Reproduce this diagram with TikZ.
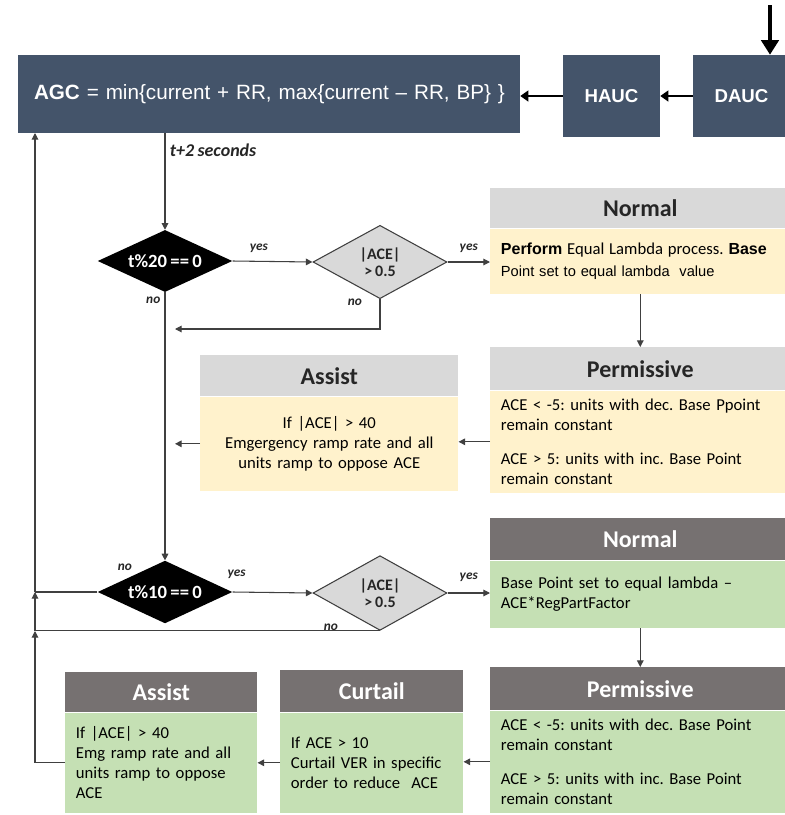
\documentclass[tikz,border=0pt]{standalone}
\usepackage{fontspec}
\usepackage{graphicx}
\setmainfont{Carlito}[WordSpace=0.8]
\newfontfamily\arialfont{Liberation Sans}[WordSpace=0.7]
\frenchspacing
\usetikzlibrary{positioning,shapes.geometric,arrows.meta}
\definecolor{slate}{HTML}{44546A}
\definecolor{hdrgray}{HTML}{D9D9D9}
\definecolor{hdrdark}{HTML}{767171}
\definecolor{paleyellow}{HTML}{FFF2CC}
\definecolor{palegreen}{HTML}{C5E0B4}
\definecolor{decgray}{HTML}{D9D9D9}

\begin{document}
\begin{tikzpicture}[x=0.75pt, y=-0.75pt,
        ucbox/.style={rectangle, fill=slate, text=white, inner ysep=0pt},
        hdr/.style={rectangle, inner xsep=8pt, inner ysep=0pt, align=center, font=\fontsize{18}{20}\selectfont\bfseries},
        hdrlight/.style={hdr, fill=hdrgray, text=black!85},
        hdrdark/.style={hdr, fill=hdrdark, text=white},
        body/.style={rectangle, inner xsep=8pt, inner ysep=2pt, font=\fontsize{12.5}{15}\selectfont, text=black},
        dec/.style={diamond, aspect=2.2, inner sep=0pt},
        decblack/.style={dec, fill=black, text=white, font=\fontsize{14}{16}\selectfont\bfseries},
        decgray/.style={dec, fill=decgray, draw=black!75, line width=0.8pt, align=center, font=\fontsize{12}{13}\selectfont\bfseries, text=black!85},
        lbl/.style={font=\fontsize{10}{12}\selectfont\bfseries\itshape, text=black!85},
        conn/.style={draw=black!75, line width=0.8pt},
        ->/.style={-{Triangle[length=5pt,width=5pt]}},
        bigarrow/.style={draw=black, line width=2.2pt, -{Triangle[length=6pt,width=8pt]}}]
        \begin{scope}

            \useasboundingbox (0,0) rectangle (785,815);

            \node[ucbox, text width=352.5pt, inner xsep=12pt, minimum height=58.5pt, align=left, font=\arialfont\fontsize{15.5}{17}\selectfont] (agc) at (269,94) {\makebox[352.5pt][l]{\textbf{AGC} = min\{current + RR, max\{current – RR, BP\} \}}};
            \node[ucbox, minimum width=72.75pt, minimum height=61.5pt, font=\arialfont\fontsize{14}{16}\selectfont\bfseries] (hauc) at (611.5,96) {HAUC};
            \node[ucbox, minimum width=72.75pt, minimum height=61.5pt, font=\arialfont\fontsize{14}{16}\selectfont\bfseries] (dauc) at (741.5,96) {DAUC};
            \coordinate (topin) at (770,5);

            \draw[bigarrow, line width=3.5pt, -{Triangle[length=11pt,width=13pt]}] (topin) -- (topin |- dauc.north);
            \draw[bigarrow] (dauc.west) -- (hauc.east);
            \draw[bigarrow] (hauc.west) -- (hauc.west -| agc.east);


            \node[decblack, minimum width=101pt, minimum height=46.5pt] (dec1) at (165,261) {t\%20 == 0};
            \node[decgray, minimum width=100.5pt, minimum height=55pt] (dec2) at (380,262) {|ACE|\\> 0.5};

            \node[hdrlight, anchor=north west, text width=209pt, minimum height=30pt] (norm1h) at (490,188) {Normal};
            \node[body, below=0pt of norm1h, fill=paleyellow, text width=209pt, minimum height=48.75pt, align=left, font=\arialfont\fontsize{11}{16.5}\selectfont] (norm1b) {{\fontsize{12}{14}\selectfont\bfseries Perform} {\rmfamily\fontsize{12.5}{14}\selectfont Equal Lambda process.} {\fontsize{12}{14}\selectfont\bfseries Base}\\Point set to equal lambda\ \ value};

            \node[hdrlight, anchor=north west, text width=209pt, minimum height=32.25pt] (perm1h) at (490,347) {Permissive};
            \node[body, below=0pt of perm1h, fill=paleyellow, text width=209pt, minimum height=76.5pt, align=left] (perm1b) {ACE < -5: units with dec. Base Ppoint\\remain constant\\[10pt]ACE > 5: units with inc. Base Point\\remain constant};

            \node[hdrlight, anchor=north west, text width=177.5pt, minimum height=30.75pt] (asst1h) at (200,355) {Assist};
            \node[body, below=0pt of asst1h, fill=paleyellow, text width=177.5pt, minimum height=70.5pt, align=center] (asst1b) {If |ACE| > 40\\Emgergency ramp rate and all\\units ramp to oppose ACE};


            \node[decblack, minimum width=101pt, minimum height=47pt] (dec3) at (165,592) {t\%10 == 0};
            \node[decgray, minimum width=100.5pt, minimum height=56pt] (dec4) at (380,593) {|ACE|\\> 0.5};

            \node[hdrdark, anchor=north west, text width=209pt, minimum height=31.5pt] (norm2h) at (490,518) {Normal};
            \node[body, below=0pt of norm2h, fill=palegreen, text width=209pt, minimum height=50.25pt, align=left] (norm2b) {Base Point set to equal lambda –\\ACE*RegPartFactor};

            \node[hdrdark, anchor=north west, text width=209pt, minimum height=32.25pt] (perm2h) at (490,667) {Permissive};
            \node[body, below=0pt of perm2h, fill=palegreen, text width=209pt, minimum height=76.5pt, align=left] (perm2b) {ACE < -5: units with dec. Base Point\\remain constant\\[10pt]ACE > 5: units with inc. Base Point\\remain constant};

            \node[hdrdark, anchor=north west, text width=121.25pt, minimum height=31.5pt] (curth) at (280,670) {Curtail};
            \node[body, below=0pt of curth, fill=palegreen, text width=121.25pt, minimum height=75pt, align=left] (curtb) {If ACE > 10\\Curtail VER in specific\\order to reduce\ \ ACE};

            \node[hdrdark, anchor=north west, text width=128pt, minimum height=30pt] (asst2h) at (65,672) {Assist};
            \node[body, below=0pt of asst2h, fill=palegreen, text width=128pt, minimum height=75pt, align=left] (asst2b) {If |ACE| > 40\\Emg ramp rate and all\\units ramp to oppose\\ACE};


            \coordinate (ret1) at (175,329);
            \coordinate (fbA) at (35,631);
            \coordinate (fbB) at (35,592);
            \coordinate (fbC) at (35,133);

            \draw[conn,->] (dec1 |- agc.south) -- (dec1.north) node[lbl, pos=0.18, right, font=\fontsize{13.5}{15}\selectfont\bfseries\itshape] {t+2 seconds};
            \draw[conn,->] (dec1.east) -- (dec2.west) node[lbl, pos=0.33, above=3pt] {yes};
            \node[lbl, anchor=north east] (no1) at (dec1.south) {no};
            \draw[conn,->] (dec2.east) -- (dec2.east -| norm1b.west) node[lbl, pos=0.5, above=3pt] {yes};
            \node[lbl, anchor=east, xshift=-10pt, yshift=-2pt] (no2) at (dec2.south) {no};
            \draw[conn,->] (dec2.south) |- (ret1);
            \draw[conn,->] (norm1b.south) -- (perm1h.north);
            \draw[conn,->] (perm1b.west) -- (perm1b.west -| asst1b.east);
            \draw[conn,->] (asst1b.west) -- (asst1b.west -| ret1);
            \draw[conn,->] (dec1.south) -- (dec3.north);

            \node[lbl, xshift=-30pt, yshift=-5pt] (no3) at (dec3.north) {no};
            \draw[conn,->] (dec3.east) -- (dec4.west) node[lbl, pos=0.05, above=6pt] {yes};
            \draw[conn,->] (dec4.east) -- (dec4.east -| norm2b.west) node[lbl, pos=0.5, above=5pt] {yes};
            \node[lbl, anchor=south east, xshift=-28pt, yshift=-3pt] (no4) at (dec4.south) {no};
            \draw[conn,->] (norm2b.south) -- (perm2h.north);
            \draw[conn,->] (perm2b.west) -- (perm2b.west -| curtb.east);
            \draw[conn,->] (curtb.west) -- (curtb.west -| asst2b.east);

            \draw[conn] (dec3.west) -- (fbB);
            \draw[conn] (dec4.south) -- (dec4.south -| fbA);
            \draw[conn,->] (asst2b.west) -| (fbA);
            \draw[conn,->] (fbA) -- (fbB);
            \draw[conn,->] (fbB) -- (fbC);

        \end{scope}
    \end{tikzpicture}
\end{document}
